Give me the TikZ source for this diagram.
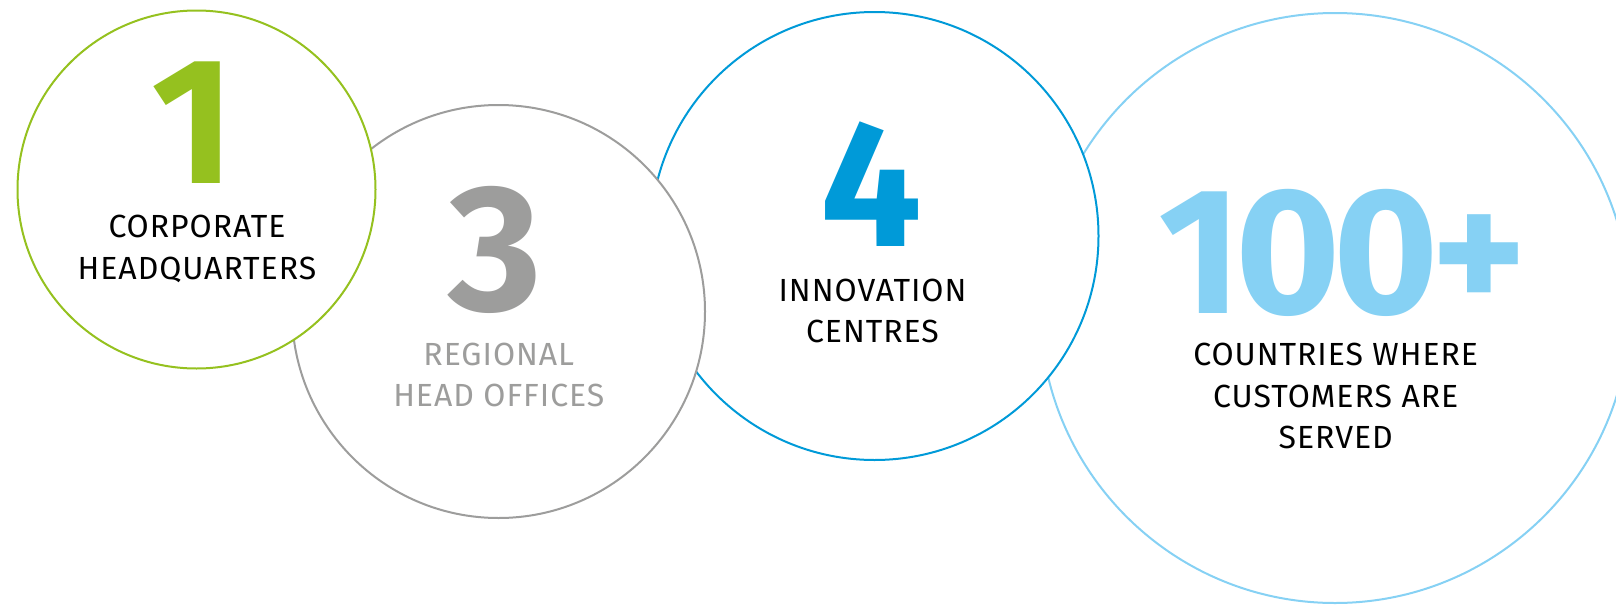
\documentclass[tikz,border=0pt]{standalone}
\usepackage{fontspec}
\setmainfont{Fira Sans}
\newfontfamily\capfont[LetterSpace=3]{Fira Sans}
\newfontfamily\tightnum[LetterSpace=-4]{Fira Sans}
\usepackage{tikz}
\usetikzlibrary{positioning}
\definecolor{hqgreen}{HTML}{95C11F}
\definecolor{reggray}{HTML}{9D9D9C}
\definecolor{innblue}{HTML}{009AD8}
\definecolor{ctrblue}{HTML}{86D1F4}
\tikzset{
  ring/.style={circle, draw=#1, line width=2pt, fill=white, inner sep=0pt},
  bignum/.style={text=#1, font=\fontsize{180}{180}\selectfont\bfseries, inner sep=0pt,
    anchor=base, text height=124pt, text depth=0pt},
  capline/.style={font=\capfont\fontsize{32}{42}\selectfont, inner sep=0pt,
    anchor=base, text height=22pt, text depth=0pt}
}

\begin{document}
\begin{tikzpicture}[x=1pt,y=-1pt]

  \useasboundingbox (0,0) rectangle (1616,613);
  \clip (0,0) rectangle (1616,613);

  % rings, back to front
  \node[ring=ctrblue, minimum size=590pt] (ctr) at (1335,308) {};
  \node[ring=innblue, minimum size=448pt] (inn) at (874.5,236) {};
  \node[ring=reggray, minimum size=413pt] (reg) at (498.5,311.5) {};
  \node[ring=hqgreen, minimum size=358pt] (hq) at (196.5,189.5) {};

  % numbers
  \node[bignum=hqgreen] (hqnum) at (193,183) {1};
  \node[bignum=reggray] (regnum) at (495,310.7) {3};
  \node[bignum=innblue] (innnum) at (871.5,246) {4};
  \node[bignum=ctrblue] (ctrnum) at (1343,313.6) {\tightnum 100+};

  % captions
  \node[capline] (hqa) at (197,237) {CORPORATE};
  \node[capline] (hqb) at (197,279) {HEADQUARTERS};
  \node[capline, text=reggray] (rega) at (498.8,365) {REGIONAL};
  \node[capline, text=reggray] (regb) at (498.8,406.7) {HEAD OFFICES};
  \node[capline] (inna) at (872.5,301) {INNOVATION};
  \node[capline] (innb) at (872.5,342.7) {CENTRES};
  \node[capline] (ctra) at (1335.7,365.6) {COUNTRIES WHERE};
  \node[capline] (ctrb) at (1335.7,407.5) {CUSTOMERS ARE};
  \node[capline] (ctrc) at (1335.7,448.5) {SERVED};

\end{tikzpicture}
\end{document}
